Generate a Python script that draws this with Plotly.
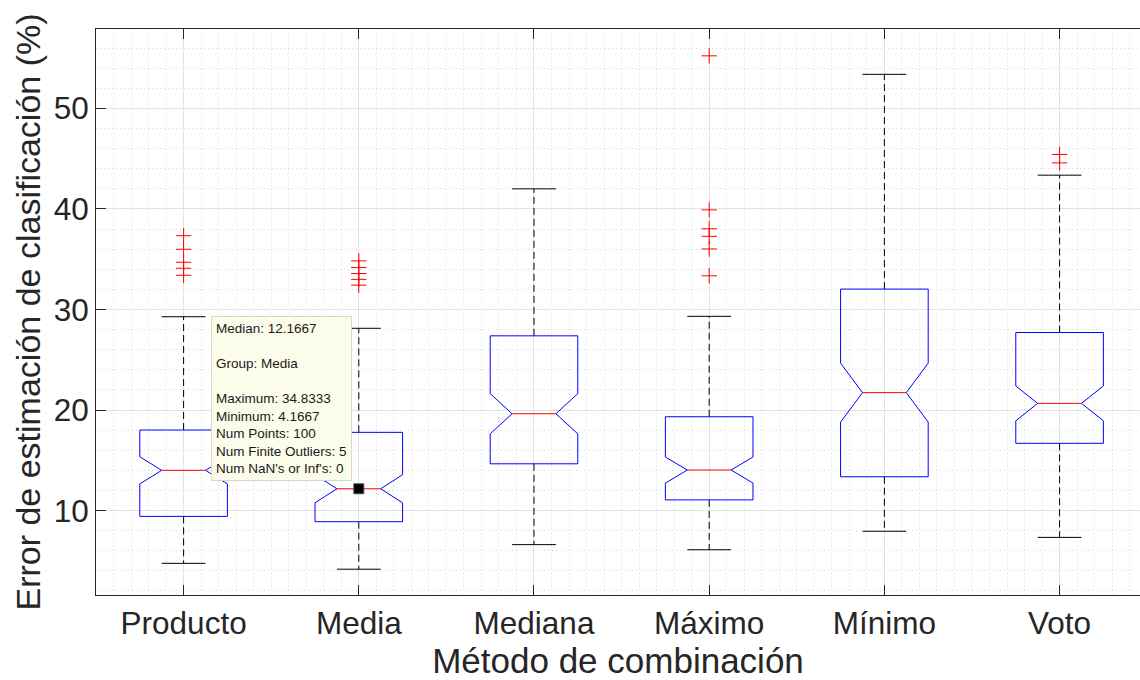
import plotly.graph_objects as go

# ---------------- data ----------------
categories = ["Producto", "Media", "Mediana", "Máximo", "Mínimo", "Voto"]
upper_whisker = [29.28, 28.13, 42.00, 29.32, 53.39, 43.36]
q3_values = [18.01, 17.78, 27.38, 19.33, 32.03, 27.71]
median_values = [14.00, 12.1667, 19.63, 14.03, 21.73, 20.66]
q1_values = [9.42, 8.89, 14.65, 11.06, 13.36, 16.69]
lower_whisker = [4.75, 4.1667, 6.61, 6.10, 7.94, 7.33]
n_points = [100, 100, 100, 100, 100, 100]

out_producto = [37.34, 35.99, 34.70, 34.10, 33.40]
out_media = [34.8333, 34.17, 33.58, 33.00, 32.42]
out_mediana = []
out_maximo = [55.23, 39.91, 38.03, 37.28, 36.02, 33.35]
out_minimo = []
out_voto = [45.42, 44.58]
outliers = [out_producto, out_media, out_mediana, out_maximo, out_minimo, out_voto]

y_ticks = [10, 20, 30, 40, 50]

datatip_lines = [
    "Median: 12.1667", "", "Group: Media", "",
    "Maximum: 34.8333", "Minimum: 4.1667", "Num Points: 100",
    "Num Finite Outliers: 5", "Num NaN's or Inf's: 0",
]
datatip_group = 1  # index of "Media"

# ---------------- styling ----------------
FONT = "Liberation Sans, Arial, Helvetica, sans-serif"
TXT = "#262626"
BOX_HALF = 0.25
NOTCH_HALF = 0.125
CAP_HALF = 0.125

fig = go.Figure()

for i, cat in enumerate(categories):
    xc = i + 1
    q1, med, q3 = q1_values[i], median_values[i], q3_values[i]
    notch = 1.57 * (q3 - q1) / (n_points[i] ** 0.5)
    lo_n, hi_n = med - notch, med + notch
    # whiskers (dashed black)
    fig.add_trace(go.Scatter(
        x=[xc, xc, None, xc, xc],
        y=[q3, upper_whisker[i], None, q1, lower_whisker[i]],
        mode="lines", line=dict(color="black", width=1, dash="7px,4px"),
        hoverinfo="skip", showlegend=False))
    # whisker caps
    fig.add_trace(go.Scatter(
        x=[xc - CAP_HALF, xc + CAP_HALF, None, xc - CAP_HALF, xc + CAP_HALF],
        y=[upper_whisker[i], upper_whisker[i], None, lower_whisker[i], lower_whisker[i]],
        mode="lines", line=dict(color="black", width=1),
        hoverinfo="skip", showlegend=False))
    # notched box outline (blue)
    bx = [xc - BOX_HALF, xc - BOX_HALF, xc - NOTCH_HALF, xc - BOX_HALF, xc - BOX_HALF,
          xc + BOX_HALF, xc + BOX_HALF, xc + NOTCH_HALF, xc + BOX_HALF, xc + BOX_HALF,
          xc - BOX_HALF]
    by = [q1, lo_n, med, hi_n, q3, q3, hi_n, med, lo_n, q1, q1]
    fig.add_trace(go.Scatter(
        x=bx, y=by, mode="lines", line=dict(color="#0000FF", width=1),
        hoverinfo="skip", showlegend=False))
    # median (red)
    fig.add_trace(go.Scatter(
        x=[xc - NOTCH_HALF, xc + NOTCH_HALF], y=[med, med], mode="lines",
        line=dict(color="#FF0000", width=1), hoverinfo="skip", showlegend=False))
    # outliers
    if outliers[i]:
        fig.add_trace(go.Scatter(
            x=[xc] * len(outliers[i]), y=outliers[i], mode="markers",
            marker=dict(symbol="cross-thin", size=11, line=dict(color="#FF0000", width=1)),
            hoverinfo="skip", showlegend=False))

# datatip marker
fig.add_trace(go.Scatter(
    x=[datatip_group + 1], y=[median_values[datatip_group]], mode="markers",
    marker=dict(symbol="square", size=10, color="black", line=dict(color="#555555", width=1)),
    hoverinfo="skip", showlegend=False))

fig.add_annotation(
    x=datatip_group + 1, y=median_values[datatip_group], xref="x", yref="y",
    text="<br>".join(l if l else " " for l in datatip_lines),
    showarrow=False, xanchor="right", yanchor="bottom", xshift=-7, yshift=8,
    align="left", font=dict(family=FONT, size=13.5, color="#1a1a1a"),
    bgcolor="#FCFCEA", bordercolor="#D9D9C6", borderwidth=1, borderpad=4)

axis_common = dict(
    ticks="inside", ticklen=10, tickwidth=1, tickcolor=TXT,
    showline=True, linecolor=TXT, linewidth=1,
    showgrid=True, gridcolor="#E3E3E3", gridwidth=1, zeroline=False,
    tickfont=dict(family=FONT, size=31.5, color=TXT),
    automargin=False,
)

fig.update_layout(
    width=1140, height=680,
    margin=dict(l=96, r=0, t=29, b=85),
    paper_bgcolor="white", plot_bgcolor="white",
    hovermode=False,
    xaxis=dict(
        axis_common, range=[0.5, 6.459],
        tickmode="array", tickvals=[i + 1 for i in range(len(categories))], ticktext=categories,
        mirror="allticks",
        minor=dict(dtick=0.1, tick0=0, showgrid=True, gridcolor="#D8D8D8", griddash="1px,3px", gridwidth=1),
        title=dict(text="Método de combinación", font=dict(family=FONT, size=35, color=TXT), standoff=5),
    ),
    yaxis=dict(
        axis_common, range=[1.6, 57.9],
        tickmode="array", tickvals=y_ticks,
        mirror=False,
        minor=dict(dtick=2, tick0=0, showgrid=True, gridcolor="#D8D8D8", griddash="1px,3px", gridwidth=1),
        title=dict(text="Error de estimación de clasificación (%)", font=dict(family=FONT, size=34, color=TXT), standoff=2),
    ),
)

fig.write_html(
    "out.html",
    config={"displayModeBar": False},
    post_script="document.body.style.margin='0';document.body.style.overflow='hidden';",
)
